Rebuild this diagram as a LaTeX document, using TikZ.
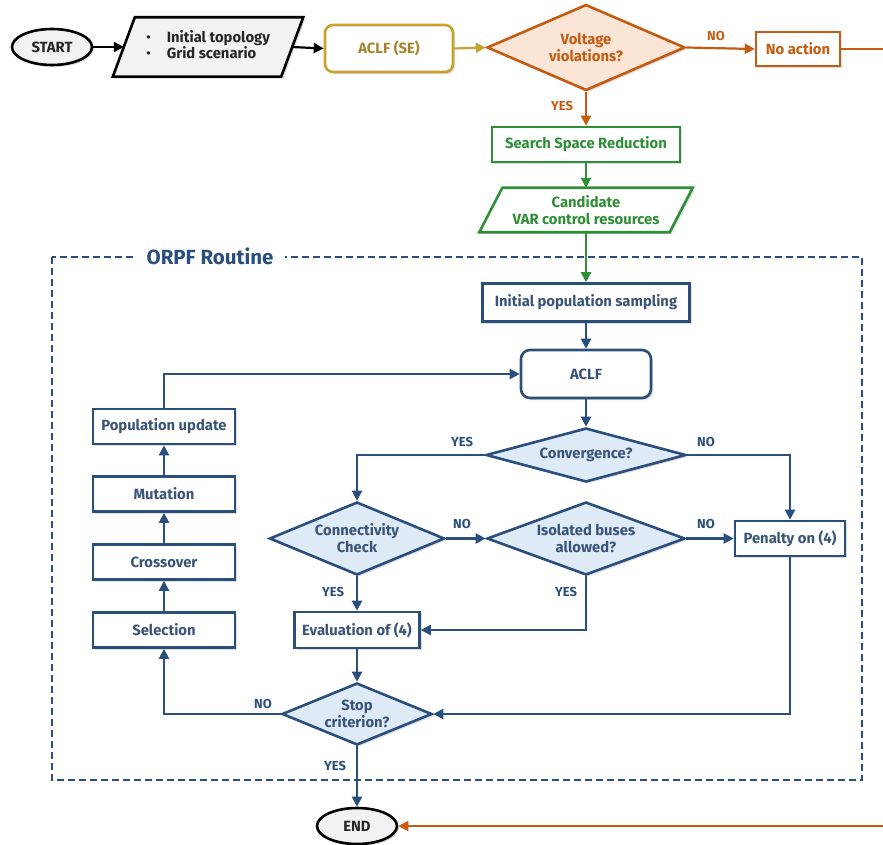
\documentclass[tikz,border=0pt]{standalone}
\usepackage{fontspec}
\setmainfont{Fira Sans}
\usetikzlibrary{arrows.meta,shapes.geometric,shadows}

\definecolor{navy}{HTML}{2B4F7C}
\definecolor{navytext}{HTML}{3A5478}
\definecolor{paleblue}{HTML}{DEEBF7}
\definecolor{rust}{HTML}{C55A11}
\definecolor{peach}{HTML}{FBE5D6}
\definecolor{leaf}{HTML}{2F8F35}
\definecolor{ochre}{HTML}{C9A12E}
\definecolor{ochretext}{HTML}{A6852A}
\definecolor{lightgray}{HTML}{F2F2F2}

\tikzset{
  shade box/.style={drop shadow={shadow xshift=2pt,shadow yshift=-2pt,opacity=.22,fill=black!60}},
  txt/.style={font=\bfseries\fontsize{14.8}{17}\selectfont},
  basebox/.style={rectangle,draw,line width=2.6pt,fill=white,txt,align=center,inner sep=0pt,shade box},
  bluebox/.style={basebox,draw=navy,text=navytext},
  decision/.style={diamond,draw=navy,fill=paleblue,line width=2.6pt,inner sep=0pt,align=center,
                   txt,text=navytext,shade box},
  terminal/.style={ellipse,draw=black,fill=lightgray,line width=2.6pt,inner sep=0pt,
                   txt,text=black!85,shade box},
  frame only/.style={inner sep=0pt},
  slanted/.style={line width=2.6pt,shade box},
  flow/.style={line width=2.2pt,-{Triangle[length=10pt,width=10pt]}},
  plain/.style={line width=2.2pt},
  tag/.style={font=\bfseries\fontsize{13}{15}\selectfont,inner sep=0pt}
}

\begin{document}
\begin{tikzpicture}[x=1pt,y=-1pt]
\useasboundingbox (0,0) rectangle (883,845);

% ---------- routine frame ----------
\draw[navy,line width=2.2pt,dash pattern=on 7pt off 4pt] (52,257) rectangle (862,780);
\node[fill=white,inner xsep=12pt,inner ysep=2pt,text=navy,font=\bfseries\fontsize{20.5}{22}\selectfont]
  (routine) at (210,256) {ORPF Routine};

% ---------- pre-processing chain ----------
\node[terminal,minimum width=80pt,minimum height=36pt] (start) at (52,47) {START};

% input data: parallelogram around an empty frame node
\node[frame only,minimum width=168pt,minimum height=59pt] (inp) at (208,47) {};
\filldraw[slanted,draw=black,fill=lightgray]
  ([xshift=-11pt]inp.south west) -- ([xshift=11pt]inp.north west) --
  ([xshift=11pt]inp.north east) -- ([xshift=-11pt]inp.south east) -- cycle;
\node[txt,text=black!85,inner sep=0pt] (inptext) at (inp.center)
      {\begin{tabular}{@{}l@{\hspace{16pt}}l@{}}{\mdseries •} & Initial topology\\[-1pt] {\mdseries •} & Grid scenario\end{tabular}};

\node[basebox,draw=ochre,text=ochretext,rounded corners=8pt,minimum width=128pt,minimum height=47pt] (aclfse) at (389,48.5) {ACLF (SE)};
\node[decision,draw=rust,fill=peach,text=rust,shape aspect=2.26,minimum width=198pt,minimum height=86pt] (volt) at (586,47.5) {Voltage\\violations?};
\node[basebox,draw=rust,text=rust,line width=2.4pt,minimum width=84pt,minimum height=34pt] (noact) at (798,49) {No action};
\coordinate (rimtop) at (883,49);

\node[basebox,draw=leaf,text=leaf,minimum width=188pt,minimum height=35pt] (ssr) at (586,144.5) {Search Space Reduction};

% candidate resources: parallelogram around an empty frame node
\node[frame only,minimum width=190pt,minimum height=44pt] (cand) at (586,210) {};
\filldraw[slanted,draw=leaf,fill=white]
  ([xshift=-11.5pt]cand.south west) -- ([xshift=11.5pt]cand.north west) --
  ([xshift=11.5pt]cand.north east) -- ([xshift=-11.5pt]cand.south east) -- cycle;
\node[txt,text=leaf,align=center,inner sep=0pt] (candtext) at (cand.center) {Candidate\\VAR control resources};

% ---------- optimisation loop ----------
\node[bluebox,minimum width=207pt,minimum height=38pt] (initpop) at (586,302.5) {Initial population sampling};
\node[bluebox,rounded corners=9pt,minimum width=130pt,minimum height=48pt] (aclf) at (586,374) {ACLF};
\node[decision,shape aspect=3.7,minimum width=200pt,minimum height=54pt] (conv) at (586,455) {Convergence?};
\node[decision,shape aspect=2.4,minimum width=175pt,minimum height=73pt] (conn) at (357,538.5) {Connectivity\\Check};
\node[decision,shape aspect=2.7,minimum width=198pt,minimum height=73pt] (iso) at (586,538.5) {Isolated buses\\allowed?};
\node[bluebox,minimum width=110pt,minimum height=35pt] (pen) at (790,538.5) {Penalty on (4)};
\node[bluebox,minimum width=125pt,minimum height=36pt] (eval) at (357,630) {Evaluation of (4)};
\node[decision,shape aspect=2.4,minimum width=150pt,minimum height=62pt] (stop) at (357,714) {Stop\\criterion?};

\node[bluebox,minimum width=142pt,minimum height=35pt] (sel) at (164,630) {Selection};
\node[bluebox,minimum width=142pt,minimum height=35pt] (cross) at (164,562) {Crossover};
\node[bluebox,minimum width=142pt,minimum height=35pt] (mut) at (164,494) {Mutation};
\node[bluebox,minimum width=142pt,minimum height=35pt] (popup) at (164,426.5) {Population update};

\node[terminal,minimum width=80pt,minimum height=36pt] (end) at (357,826) {END};
\coordinate (rimbot) at (883,826);

% ---------- connectors ----------
\draw[flow,black] (start.east) -- (inp.west);
\draw[flow,black] (inp.east) -- (aclfse.west);
\draw[flow,ochre] (aclfse.east) -- (volt.west);
\draw[flow,rust] (volt.east) -- (noact.west);
\node[tag,text=rust] (voltno) at (716,36) {NO};
\draw[plain,rust] (noact.east) -- (rimtop);
\draw[flow,rust] (volt.south) -- (ssr.north);
\node[tag,text=rust] (voltyes) at (562,106) {YES};
\draw[flow,leaf] (ssr.south) -- (cand.north);
\draw[flow,leaf] (cand.south) -- (initpop.north);

\draw[flow,navy] (initpop.south) -- (aclf.north);
\draw[flow,navy] (aclf.south) -- (conv.north);
\draw[flow,navy] (conv.west) -| (conn.north);
\node[tag,text=navy] (convyes) at (462,442) {YES};
\draw[flow,navy] (conv.east) -| (pen.north);
\node[tag,text=navy] (convno) at (706,442) {NO};
\draw[flow,navy] (conn.east) -- (iso.west);
\node[tag,text=navy] (connno) at (462,524) {NO};
\draw[flow,navy] (iso.east) -- (pen.west);
\node[tag,text=navy] (isono) at (706,524) {NO};
\draw[flow,navy] (conn.south) -- (eval.north);
\node[tag,text=navy] (connyes) at (333,592) {YES};
\draw[flow,navy] (iso.south) |- (eval.east);
\node[tag,text=navy] (isoyes) at (566,592) {YES};
\draw[flow,navy] (eval.south) -- (stop.north);
\draw[flow,navy] (pen.south) |- (stop.east);
\draw[flow,navy] (stop.west) -| (sel.south);
\node[tag,text=navy] (stopno) at (263,704) {NO};
\draw[flow,navy] (sel.north) -- (cross.south);
\draw[flow,navy] (cross.north) -- (mut.south);
\draw[flow,navy] (mut.north) -- (popup.south);
\draw[flow,navy] (popup.north) |- (aclf.west);
\draw[flow,navy] (stop.south) -- (end.north);
\node[tag,text=navy] (stopyes) at (335,766) {YES};
\draw[flow,rust] (rimbot) -- (end.east);
\end{tikzpicture}
\end{document}
